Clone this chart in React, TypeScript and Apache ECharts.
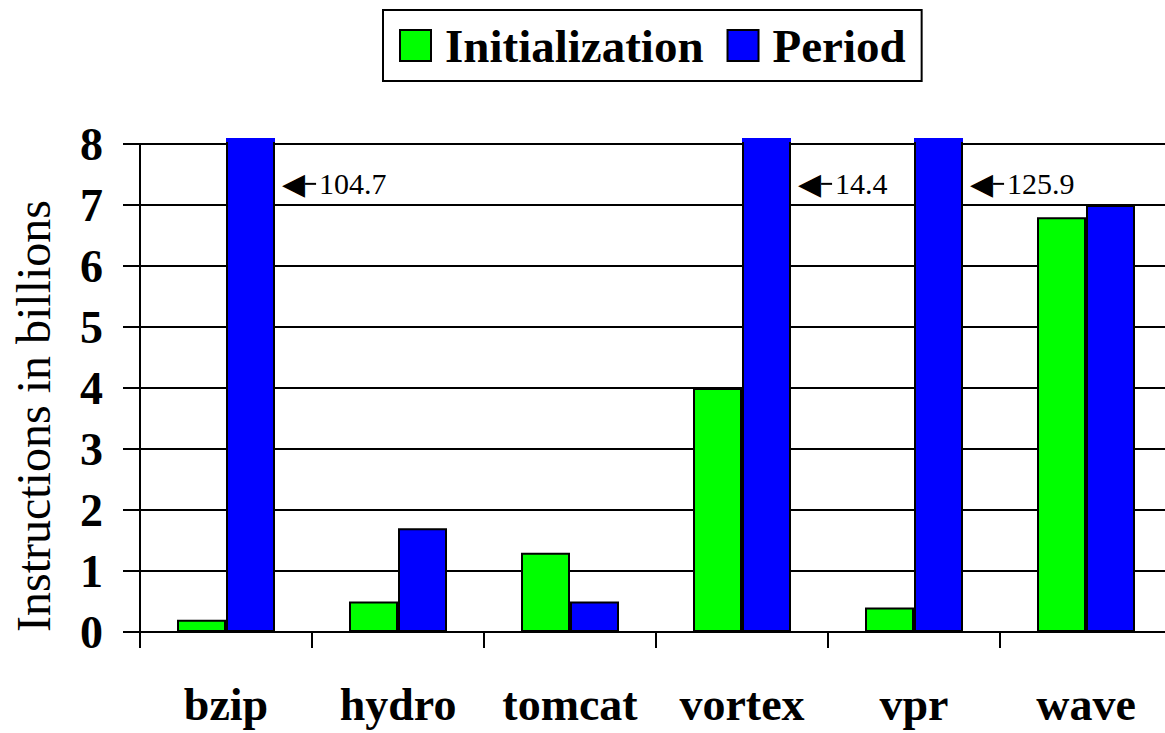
import React, { useEffect, useRef } from "react";
import * as echarts from "echarts";

const categories = ["bzip", "hydro", "tomcat", "vortex", "vpr", "wave"];
const initValues = [0.2, 0.5, 1.3, 4.0, 0.4, 6.8];
const periodValues = [104.7, 1.7, 0.5, 14.4, 125.9, 7.0];
const seriesNames = ["Initialization", "Period"];
const AXIS_MAX = 8;
const AXIS_INTERVAL = 1;
const CLIP_VALUE = 8.1; // bars beyond the axis are drawn slightly above it

const SERIF = "'Liberation Serif', 'Times New Roman', serif";

export default function App() {
  const ref = useRef<HTMLDivElement>(null);

  useEffect(() => {
    if (!ref.current) return;
    const chart = echarts.init(ref.current, undefined, { renderer: "svg" });

    const clippedBorder = new echarts.graphic.LinearGradient(0, 0, 0, 1, [
      { offset: 0, color: "#0000ff" },
      { offset: 0.007, color: "#0000ff" },
      { offset: 0.007, color: "#000000" },
      { offset: 1, color: "#000000" },
    ]);

    const periodData = periodValues.map((v) =>
      v > AXIS_MAX
        ? {
            value: CLIP_VALUE,
            itemStyle: { borderColor: clippedBorder },
            label: {
              show: true,
              position: ["100%", "9.3%"],
              offset: [7, 0],
              align: "left",
              verticalAlign: "middle",
              formatter: `{arrow|◀}{shaft| }{num|${v}}`,
              rich: {
                arrow: {
                  fontFamily: "'DejaVu Sans'",
                  fontSize: 30,
                  color: "#000",
                  verticalAlign: "middle",
                },
                shaft: {
                  width: 11,
                  height: 2,
                  lineHeight: 2,
                  fontSize: 2,
                  backgroundColor: "#000",
                  verticalAlign: "middle",
                },
                num: {
                  fontFamily: SERIF,
                  fontSize: 30,
                  color: "#000",
                  padding: [0, 0, 0, 3],
                  verticalAlign: "middle",
                },
              },
            },
          }
        : v
    );

    const option: any = {
      animation: false,
      backgroundColor: "#ffffff",
      legend: {
        left: 383,
        top: 10,
        padding: [12, 16, 12, 16],
        borderColor: "#000",
        borderWidth: 2,
        itemWidth: 31,
        itemHeight: 31,
        itemGap: 23,
        icon: "rect",
        data: seriesNames,
        textStyle: {
          fontFamily: SERIF,
          fontWeight: "bold",
          fontSize: 47,
          color: "#000",
          padding: [0, 0, 0, 9],
        },
      },
      grid: { left: 140, right: 3, top: 144, bottom: 101 },
      xAxis: {
        type: "category",
        data: categories,
        axisLine: { show: true, lineStyle: { color: "#000", width: 2 } },
        axisTick: {
          show: true,
          length: 16,
          interval: 0,
          lineStyle: { color: "#000", width: 2 },
        },
        axisLabel: {
          fontFamily: SERIF,
          fontWeight: "bold",
          fontSize: 46,
          color: "#000",
          margin: 49,
          interval: 0,
        },
        splitLine: { show: false },
      },
      yAxis: {
        type: "value",
        min: 0,
        max: AXIS_MAX,
        interval: AXIS_INTERVAL,
        axisLine: { show: true, lineStyle: { color: "#000", width: 2 } },
        axisTick: { show: true, length: 17, lineStyle: { color: "#000", width: 2 } },
        axisLabel: {
          fontFamily: SERIF,
          fontWeight: "bold",
          fontSize: 46,
          color: "#000",
          margin: 37,
        },
        splitLine: { show: true, lineStyle: { color: "#000", width: 2 } },
      },
      graphic: [
        {
          type: "text",
          x: 33,
          y: 416,
          rotation: Math.PI / 2,
          style: {
            text: "Instructions in billions",
            fontFamily: SERIF,
            fontSize: 48,
            fill: "#000",
            textAlign: "center",
            textVerticalAlign: "middle",
          },
        },
      ],
      series: [
        {
          name: seriesNames[0],
          type: "bar",
          data: initValues,
          barWidth: 49,
          barGap: "0%",
          clip: false,
          itemStyle: { color: "#00ff00", borderColor: "#000", borderWidth: 2 },
        },
        {
          name: seriesNames[1],
          type: "bar",
          data: periodData,
          barWidth: 49,
          barGap: "0%",
          clip: false,
          itemStyle: { color: "#0000ff", borderColor: "#000", borderWidth: 2 },
        },
      ],
    };

    chart.setOption(option);
    return () => chart.dispose();
  }, []);

  return (
    <div
      style={{
        position: "absolute",
        left: 0,
        top: 0,
        width: 1165,
        height: 733,
        overflow: "hidden",
        background: "#fff",
      }}
    >
      <div ref={ref} style={{ width: 1175, height: 733 }} />
    </div>
  );
}
